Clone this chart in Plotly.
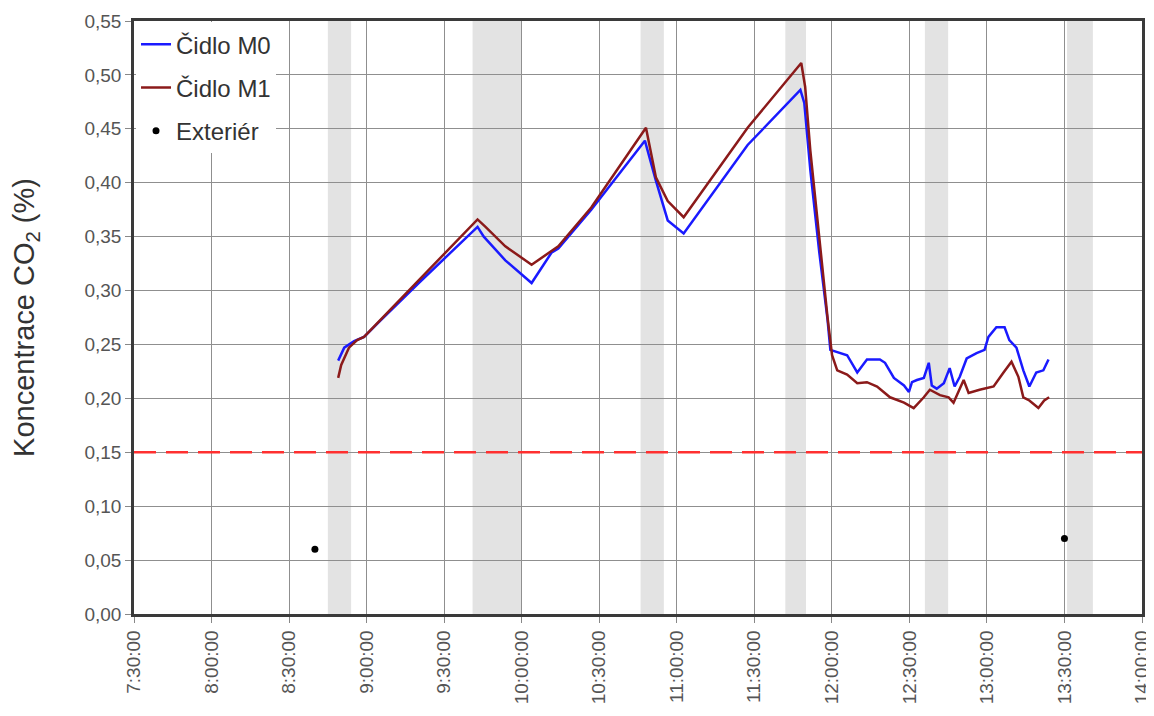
import plotly.graph_objects as go

DAY = "2021-01-01 "

# Čidlo M0 (blue)
m0_time = ["08:49:00", "08:51:20", "08:55:10", "08:59:00", "09:04:50", "09:20:10", "09:42:55", "09:45:20",
           "09:53:40", "10:03:50", "10:11:30", "10:14:10", "10:26:55", "10:47:40", "10:51:55", "10:56:30",
           "11:02:40", "11:27:25", "11:47:50", "11:49:20", "11:51:40", "11:55:10", "11:58:20", "11:59:25",
           "12:05:55", "12:09:50", "12:13:35", "12:18:35", "12:20:35", "12:24:00", "12:27:55", "12:29:50",
           "12:31:00", "12:32:55", "12:35:35", "12:37:30", "12:38:40", "12:40:35", "12:43:20", "12:45:35",
           "12:47:30", "12:49:30", "12:52:10", "12:56:00", "12:59:05", "13:00:35", "13:03:40", "13:06:50",
           "13:08:40", "13:11:25", "13:14:05", "13:16:25", "13:19:05", "13:21:50", "13:23:50"]
m0_val = [0.235, 0.247, 0.253, 0.257, 0.271, 0.307, 0.359, 0.350,
          0.328, 0.307, 0.335, 0.339, 0.375, 0.439, 0.402, 0.365,
          0.353, 0.435, 0.486, 0.474, 0.412, 0.335, 0.273, 0.245,
          0.240, 0.224, 0.236, 0.236, 0.233, 0.219, 0.212, 0.206,
          0.215, 0.217, 0.219, 0.233, 0.212, 0.209, 0.214, 0.228,
          0.211, 0.220, 0.237, 0.242, 0.245, 0.257, 0.266, 0.266,
          0.254, 0.247, 0.226, 0.211, 0.224, 0.226, 0.236]

# Čidlo M1 (dark red)
m1_time = ["08:49:00", "08:50:10", "08:53:10", "08:56:20", "08:59:00", "09:20:10", "09:42:55", "09:46:00",
           "09:53:40", "10:03:50", "10:14:10", "10:26:55", "10:48:05", "10:51:55", "10:56:30", "11:02:40",
           "11:27:25", "11:48:10", "11:49:40", "11:51:40", "11:55:10", "11:58:20", "12:00:05", "12:02:05",
           "12:05:55", "12:09:50", "12:13:35", "12:17:30", "12:22:30", "12:27:55", "12:31:40", "12:35:35",
           "12:37:55", "12:41:50", "12:45:10", "12:47:05", "12:51:00", "12:52:55", "12:57:10", "13:02:35",
           "13:06:25", "13:09:30", "13:12:10", "13:14:05", "13:16:25", "13:19:55", "13:22:10", "13:24:05"]
m1_val = [0.219, 0.231, 0.247, 0.254, 0.257, 0.310, 0.366, 0.359,
          0.341, 0.324, 0.341, 0.377, 0.451, 0.405, 0.383, 0.368,
          0.451, 0.511, 0.489, 0.430, 0.347, 0.275, 0.240, 0.226,
          0.222, 0.214, 0.215, 0.211, 0.201, 0.196, 0.191, 0.201,
          0.208, 0.203, 0.201, 0.196, 0.217, 0.205, 0.208, 0.211,
          0.224, 0.234, 0.220, 0.201, 0.198, 0.191, 0.198, 0.201]

# Exteriér
ext_time = ["08:40:00", "13:30:00"]
ext_val = [0.06, 0.07]

# limit line
limit_val = 0.15
x_start, x_end = "07:30:00", "14:00:00"

# shaded intervals
band_start = ["08:45:00", "09:41:00", "10:46:00", "11:42:00", "12:36:00", "13:31:00"]
band_end = ["08:54:00", "10:00:00", "10:55:00", "11:50:00", "12:45:00", "13:41:00"]

def ts(t):
    return [DAY + s for s in t]

fig = go.Figure()

fig.add_trace(go.Scatter(x=ts([x_start, x_end]), y=[limit_val, limit_val], mode="lines",
                         line=dict(color="#ff3030", width=2.5, dash="22px,10px"),
                         showlegend=False, hoverinfo="skip"))
fig.add_trace(go.Scatter(x=ts(m0_time), y=m0_val, mode="lines", name="Čidlo M0",
                         legendgroup="a", line=dict(color="#1a1aff", width=2.5)))
fig.add_trace(go.Scatter(x=ts(m1_time), y=m1_val, mode="lines", name="Čidlo M1",
                         legendgroup="b", line=dict(color="#8b1a1a", width=2.5)))
fig.add_trace(go.Scatter(x=ts(ext_time), y=ext_val, mode="markers", name="Exteriér",
                         legendgroup="c", marker=dict(color="black", size=7)))

for s, e in zip(band_start, band_end):
    fig.add_shape(type="rect", xref="x", yref="paper", x0=DAY + s, x1=DAY + e, y0=0, y1=1,
                  fillcolor="#e3e3e3", line=dict(width=0), layer="below")

font_fam = "Liberation Sans, Arial, sans-serif"
# page body has an 8px default margin, so the figure is sized to fit the window
fig.update_layout(
    width=1146, height=708,
    margin=dict(l=126, r=12, t=13, b=102, autoexpand=False),
    paper_bgcolor="white", plot_bgcolor="white",
    separators=", ",
    font=dict(family=font_fam, color="#555555", size=19),
    legend=dict(x=0.002, y=0.998, xanchor="left", yanchor="top", bgcolor="white",
                font=dict(size=24, color="#333333"), itemwidth=30,
                traceorder="grouped", tracegroupgap=9),
    showlegend=True,
)
fig.update_xaxes(
    type="date", range=[DAY + x_start, DAY + x_end], dtick=30 * 60 * 1000,
    tick0=DAY + x_start, tickformat="%-H:%M:%S", tickangle=-90,
    ticklabeloverflow="allow",
    showgrid=True, gridcolor="#8f8f8f", gridwidth=1.2,
    showline=True, linecolor="#3a3a3a", linewidth=2.5, mirror=True,
    ticks="outside", ticklen=6, tickcolor="#888888",
    tickfont=dict(size=19, color="#555555"),
    automargin=False,
)
fig.update_yaxes(
    range=[0, 0.55], dtick=0.05, tickformat=".2f",
    ticklabeloverflow="allow",
    showgrid=True, gridcolor="#8f8f8f", gridwidth=1.2,
    showline=True, linecolor="#3a3a3a", linewidth=2.5, mirror=True,
    ticks="outside", ticklen=6, tickcolor="#888888",
    tickfont=dict(size=19, color="#555555"),
    zeroline=False, automargin=False,
    title=dict(text="Koncentrace CO<sub>2</sub> (%)", font=dict(size=29, color="#333333"), standoff=44),
)

fig.write_html("out.html")
